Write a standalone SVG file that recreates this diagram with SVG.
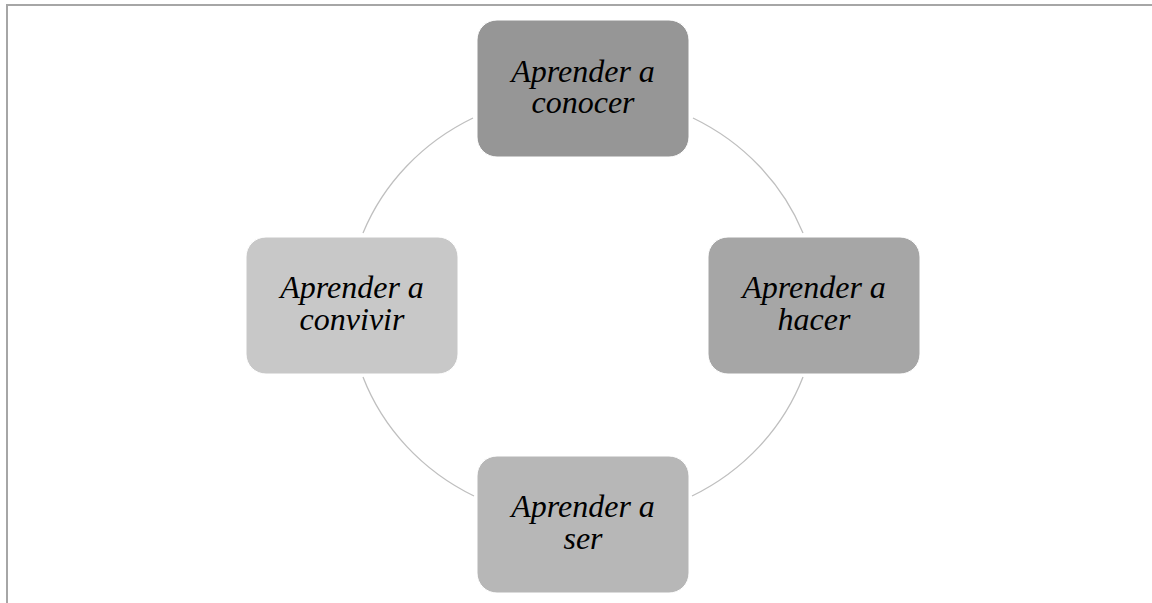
<svg xmlns="http://www.w3.org/2000/svg" width="1152" height="603" viewBox="0 0 1152 603">
<style>
.frame{stroke:#a6a6a6;stroke-width:2;fill:none}
.arc{stroke:#bfbfbf;stroke-width:1.3;fill:none}
.box{stroke:#ffffff;stroke-width:1}
</style>
<rect width="1152" height="603" fill="#ffffff"/>
<g id="frame">
<path class="frame" d="M7 603 V5 H1152"/>
</g>
<g id="connectors">
<path class="arc" d="M473 118 A231 218 0 0 0 363 233"/>
<path class="arc" d="M363 377 A231 218 0 0 0 474 496"/>
<path class="arc" d="M693 118 A231 218 0 0 1 803 233"/>
<path class="arc" d="M803 377 A231 218 0 0 1 692 496"/>
</g>
<g id="nodes" font-family="'Liberation Serif', 'Times New Roman', serif" font-style="italic" font-size="32" fill="#000000" text-anchor="middle">
<g id="node-conocer">
<rect class="box" x="477" y="20" width="212" height="137" rx="20" fill="#969696"/>
<text x="583" y="82" fill="#000000">Aprender a</text>
<text x="583" y="113" fill="#000000">conocer</text>
</g>
<g id="node-hacer">
<rect class="box" x="708" y="237" width="212" height="137" rx="20" fill="#a6a6a6"/>
<text x="814" y="298" fill="#000000">Aprender a</text>
<text x="814" y="330" fill="#000000">hacer</text>
</g>
<g id="node-ser">
<rect class="box" x="477" y="456" width="212" height="137" rx="20" fill="#b7b7b7"/>
<text x="583" y="517" fill="#000000">Aprender a</text>
<text x="583" y="549" fill="#000000">ser</text>
</g>
<g id="node-convivir">
<rect class="box" x="246" y="237" width="212" height="137" rx="20" fill="#c8c8c8"/>
<text x="352" y="298" fill="#000000">Aprender a</text>
<text x="352" y="330" fill="#000000">convivir</text>
</g>
</g>
</svg>
